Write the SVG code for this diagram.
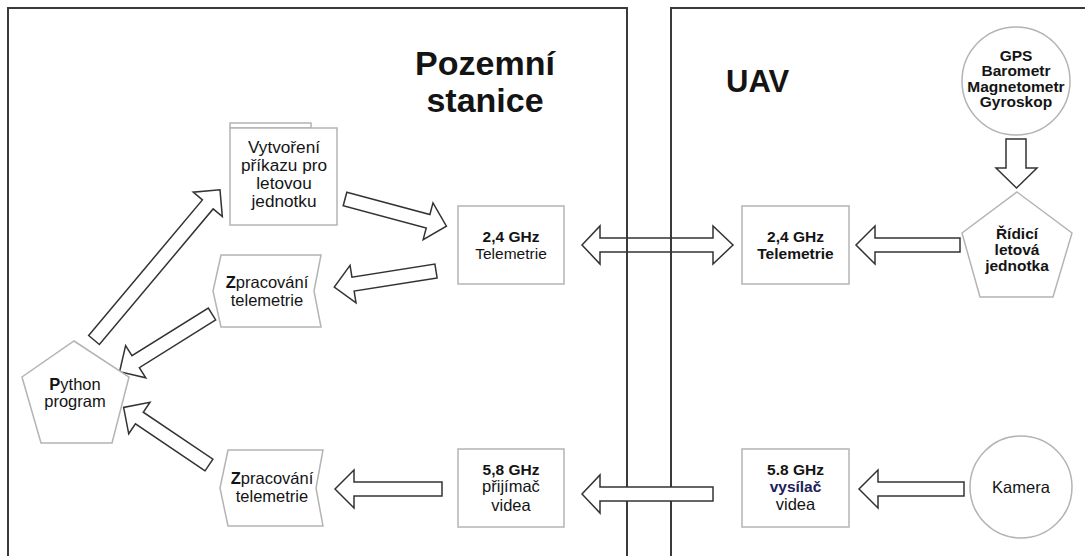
<svg xmlns="http://www.w3.org/2000/svg" width="1085" height="556" viewBox="0 0 1085 556">
<style>
.panel{fill:none;stroke:#3a3a3a;stroke-width:2}
.node{fill:#fff;stroke:#b4b4b4;stroke-width:1.5}
.arr{fill:#fff;stroke:#333;stroke-width:1.5;stroke-linejoin:miter}
text{font-family:"Liberation Sans",Arial,sans-serif;fill:#141414;text-anchor:middle}
.t{font-size:16.5px}
.l{font-size:17.2px}
.b{font-size:15.5px;font-weight:bold}
.title{font-size:34px;font-weight:bold;text-anchor:middle}
</style>
<rect width="1085" height="556" fill="#fff"/>
<g id="panels">
<rect class="panel" x="8" y="8" width="619" height="600"/>
<rect class="panel" x="671" y="8" width="450" height="600"/>
<text class="title" x="485" y="75">Pozemní</text>
<text class="title" x="485" y="112">stanice</text>
<text x="726" y="92" style="font-size:31px;font-weight:bold;text-anchor:start">UAV</text>
</g>
<g id="connectors">
<polygon class="arr" points="1006,139 1026,139 1026,168 1037,168 1016.5,188 996,168 1006,168"/>
<polygon class="arr" points="960,238 875,238 875,226 856,245 875,264 875,252 960,252"/>
<polygon class="arr" style="fill:none" points="582,245 600,226 600,238 713,238 713,226 733,245 713,264 713,252 600,252 600,264"/>
<polygon class="arr" points="713,487 600,487 600,475 582,494 600,513 600,501 713,501"/>
<polygon class="arr" points="964,482 878,482 878,470 859,489 878,508 878,496 964,496"/>
<polygon class="arr" points="442,482 354,482 354,470 335,489 354,508 354,496 442,496"/>
<polygon class="arr" transform="translate(345,199) rotate(15)" points="0,-7 86,-7 86,-19 105,0 86,19 86,7 0,7"/>
<polygon class="arr" transform="translate(436,271) rotate(171)" points="0,-7 84,-7 84,-19 103,0 84,19 84,7 0,7"/>
<polygon class="arr" transform="translate(212,314) rotate(148)" points="0,-7 90,-7 90,-19 109,0 90,19 90,7 0,7"/>
<polygon class="arr" transform="translate(209,465) rotate(214)" points="0,-7 84,-7 84,-19 103,0 84,19 84,7 0,7"/>
<polygon class="arr" transform="translate(94,340) rotate(-50)" points="0,-7 177,-7 177,-19 196,0 177,19 177,7 0,7"/>
</g>
<g id="vytvoreni">
<rect class="node" x="230" y="123" width="81" height="5"/>
<rect class="node" x="230" y="128" width="107" height="97"/>
<text class="l" x="284" y="153">Vytvoření</text>
<text class="l" x="284" y="171">příkazu pro</text>
<text class="l" x="284" y="189">letovou</text>
<text class="l" x="284" y="207">jednotku</text>
</g>
<g id="telemetrie24-ground">
<rect class="node" x="458" y="206" width="106" height="78"/>
<text class="b" x="511" y="242">2,4 GHz</text>
<text class="t" x="511" y="259" style="font-size:15.5px">Telemetrie</text>
</g>
<g id="zpracovani-1">
<polygon class="node" points="221,255 321,255 314,291 321,327 221,327 213,291"/>
<text class="t" x="267" y="288"><tspan font-weight="bold">Z</tspan>pracování</text>
<text class="t" x="267" y="306">telemetrie</text>
</g>
<g id="python">
<polygon class="node" points="74,341 129,377 112,443 41,443 22,377"/>
<text class="t" x="75" y="390"><tspan font-weight="bold">P</tspan>ython</text>
<text class="t" x="75" y="407">program</text>
</g>
<g id="zpracovani-2">
<polygon class="node" points="228,450 323,450 316,488 323,526 228,526 220,488"/>
<text class="t" x="272" y="484"><tspan font-weight="bold">Z</tspan>pracování</text>
<text class="t" x="272" y="502">telemetrie</text>
</g>
<g id="prijimac58">
<rect class="node" x="458" y="449" width="106" height="78"/>
<text class="b" x="511" y="475">5,8 GHz</text>
<text class="t" x="511" y="492">přijímač</text>
<text class="t" x="511" y="511">videa</text>
</g>
<g id="telemetrie24-uav">
<rect class="node" x="742" y="206" width="107" height="78"/>
<text class="b" x="795.5" y="242">2,4 GHz</text>
<text class="b" x="795.5" y="259">Telemetrie</text>
</g>
<g id="vysilac58">
<rect class="node" x="742" y="449" width="107" height="78"/>
<text class="b" x="795.5" y="475">5.8 GHz</text>
<text class="b" x="795.5" y="492" style="fill:#1c2058">vysílač</text>
<text class="t" x="795.5" y="510">videa</text>
</g>
<g id="senzory">
<circle class="node" cx="1016" cy="81" r="54"/>
<text class="b" x="1016" y="61">GPS</text>
<text class="b" x="1016" y="76">Barometr</text>
<text class="b" x="1016" y="92">Magnetometr</text>
<text class="b" x="1016" y="107">Gyroskop</text>
</g>
<g id="ridici-jednotka">
<polygon class="node" points="1017,192 1072,233 1053,297 980,297 962,233"/>
<text class="b" x="1017" y="239">Řídicí</text>
<text class="b" x="1017" y="255">letová</text>
<text class="b" x="1017" y="271">jednotka</text>
</g>
<g id="kamera">
<circle class="node" cx="1021" cy="487" r="51"/>
<text class="t" x="1021" y="493">Kamera</text>
</g>
</svg>
